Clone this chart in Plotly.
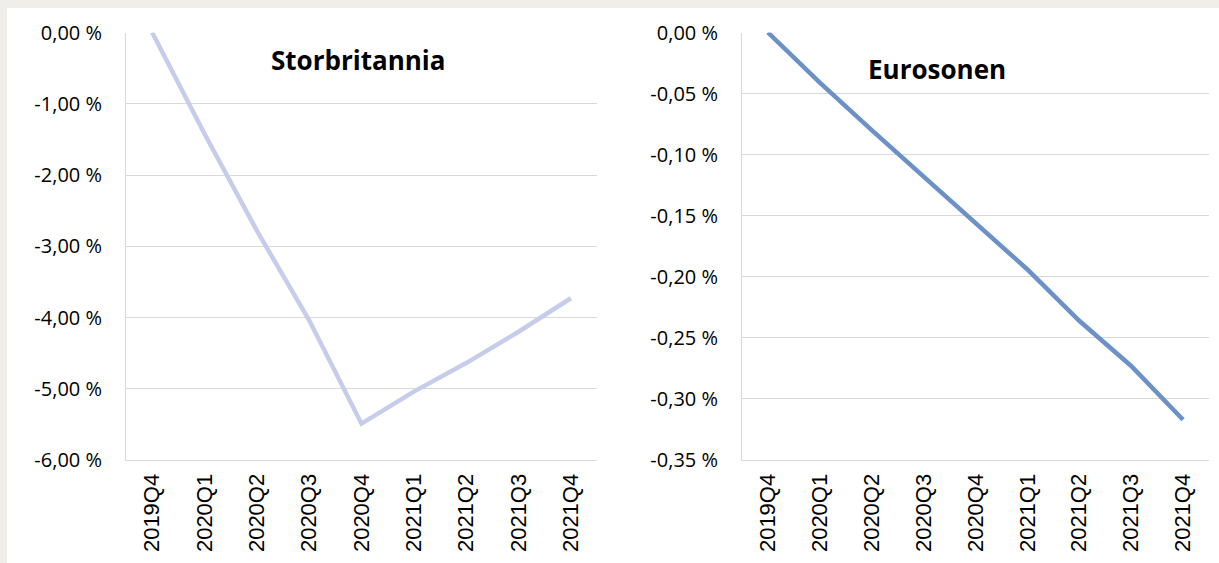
import plotly.graph_objects as go

kvartaler = ["2019Q4", "2020Q1", "2020Q2", "2020Q3", "2020Q4",
             "2021Q1", "2021Q2", "2021Q3", "2021Q4"]

storbritannia = [0.0, -1.42, -2.78, -4.04, -5.49, -5.04, -4.64, -4.20, -3.73]
eurosonen = [0.0, -0.041, -0.080, -0.118, -0.156, -0.194, -0.236, -0.273, -0.317]

uk_tickvals = [0, -1, -2, -3, -4, -5, -6]
uk_ticktext = ["0,00 %", "-1,00 %", "-2,00 %", "-3,00 %", "-4,00 %", "-5,00 %", "-6,00 %"]
ez_tickvals = [0, -0.05, -0.10, -0.15, -0.20, -0.25, -0.30, -0.35]
ez_ticktext = ["0,00 %", "-0,05 %", "-0,10 %", "-0,15 %", "-0,20 %", "-0,25 %", "-0,30 %", "-0,35 %"]

W, H = 1219, 563
grid = '#d9d9d9'

fig = go.Figure()

fig.add_trace(go.Scatter(x=kvartaler, y=storbritannia, mode='lines',
                         line=dict(color='#c5cdea', width=4.5),
                         xaxis='x', yaxis='y', showlegend=False))
fig.add_trace(go.Scatter(x=kvartaler, y=eurosonen, mode='lines',
                         line=dict(color='#6c91c9', width=4.5),
                         xaxis='x2', yaxis='y2', showlegend=False))

xcommon = dict(type='category', range=[-0.5, 8.5], tickangle=-90,
               showgrid=False, showline=True, linecolor=grid, linewidth=1,
               ticks='', ticklabelstandoff=4, automargin=False,
               tickfont=dict(family='Liberation Sans', size=22, color='black'))
ycommon = dict(showgrid=True, gridcolor=grid, gridwidth=1, zeroline=False,
               showline=True, linecolor=grid, linewidth=1, ticks='',
               ticklabelstandoff=19, automargin=False,
               tickfont=dict(family='Open Sans', size=20, color='black'))

ybot = (H - 460) / H
ytop = (H - 32.5) / H

fig.update_layout(
    width=W, height=H,
    margin=dict(l=0, r=0, t=0, b=0),
    paper_bgcolor='#efeee9',
    plot_bgcolor='white',
    xaxis=dict(xcommon, domain=[126 / W, 597 / W], anchor='y'),
    yaxis=dict(ycommon, domain=[ybot, ytop], anchor='x', range=[-6, 0],
               tickvals=uk_tickvals, ticktext=uk_ticktext),
    xaxis2=dict(xcommon, domain=[742 / W, 1209 / W], anchor='y2'),
    yaxis2=dict(ycommon, domain=[ybot, ytop], anchor='x2', range=[-0.35, 0],
                tickvals=ez_tickvals, ticktext=ez_ticktext),
    shapes=[dict(type='rect', xref='paper', yref='paper', layer='below',
                 x0=7 / W, x1=1, y0=0, y1=(H - 8) / H,
                 fillcolor='white', line=dict(width=0))],
    annotations=[
        dict(text='<b>Storbritannia</b>', x=358 / W, y=1 - 60 / H,
             xref='paper', yref='paper', showarrow=False,
             xanchor='center', yanchor='middle',
             font=dict(family='Open Sans', size=26, color='black')),
        dict(text='<b>Eurosonen</b>', x=937 / W, y=1 - 69 / H,
             xref='paper', yref='paper', showarrow=False,
             xanchor='center', yanchor='middle',
             font=dict(family='Open Sans', size=26, color='black')),
    ],
)

fig.write_html("out.html", config={'displayModeBar': False},
               post_script="document.body.style.margin='0';document.body.style.overflow='hidden';")
